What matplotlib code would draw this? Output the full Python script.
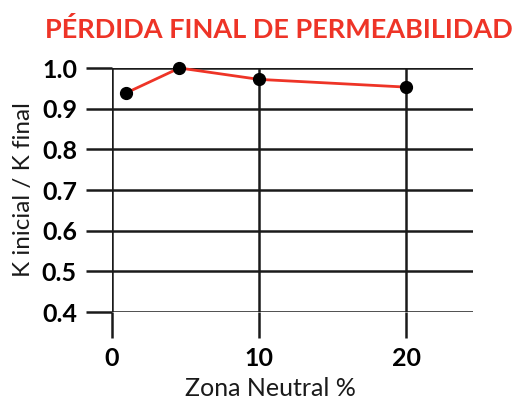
import matplotlib
matplotlib.use("Agg")
import matplotlib.pyplot as plt

# data
zona_neutral = [1.0, 4.6, 10.0, 20.0]
k_ratio = [0.939, 1.0, 0.972, 0.953]
x_ticks = [0, 10, 20]
y_ticks = [0.4, 0.5, 0.6, 0.7, 0.8, 0.9, 1.0]

plt.rcParams['font.family'] = ['Lato', 'DejaVu Sans']

fig = plt.figure(figsize=(5.14, 4.0), dpi=100)
ax = fig.add_axes([0.2173, 0.22, 0.7024, 0.61])

ax.plot(zona_neutral, k_ratio, color='#ee3427', linewidth=2, zorder=3, clip_on=False)
ax.plot(zona_neutral, k_ratio, 'o', color='black', markersize=8.5, zorder=4, clip_on=False)

ax.set_xlim(0, 24.5)
ax.set_ylim(0.4, 1.0)
ax.set_xticks(x_ticks)
ax.set_yticks(y_ticks)
ax.set_yticklabels(['%.1f' % v for v in y_ticks])
ax.grid(True, color='#1a1a1a', linewidth=1.8)
ax.set_axisbelow(True)
for s in ax.spines.values():
    s.set_visible(False)
ax.tick_params(axis='both', length=19, width=1.8, color='#1a1a1a', pad=6,
               labelsize=18)
for lab in ax.get_xticklabels() + ax.get_yticklabels():
    lab.set_fontweight('bold')

ax.set_xlabel('Zona Neutral %', fontsize=18, fontweight='normal', color='#1a1a1a')
ax.xaxis.set_label_coords(0.441, -0.313)
ax.xaxis.label.set_va('center')
ax.set_ylabel('K inicial / K final', fontsize=17.5, fontweight='normal', labelpad=6,
              color='#1a1a1a')

fig.text(0.542, 0.925, 'PÉRDIDA FINAL DE PERMEABILIDAD', color='#ee3427',
         fontsize=19.5, fontweight='bold', ha='center', va='center')

fig.savefig('out.png', dpi=100)
